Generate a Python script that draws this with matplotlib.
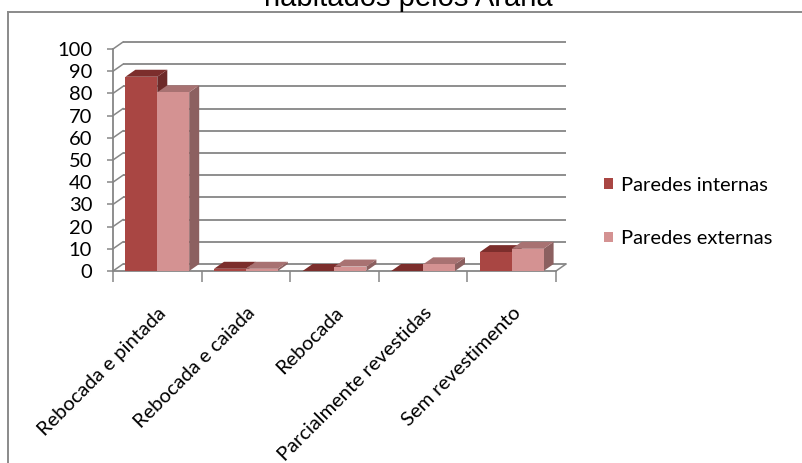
#!/usr/bin/env python3
"""
Revestimento das paredes - colunas 3D estilo planilha
"""

import matplotlib.pyplot as plt
from matplotlib.patches import Polygon, Patch
from matplotlib.lines import Line2D

categorias = ['Rebocada e pintada', 'Rebocada e caiada', 'Rebocada',
              'Parcialmente revestidas', 'Sem revestimento']
internas = [87.5, 1, 0, 0, 8.5]
externas = [80.5, 1, 2, 3, 10]
series_nomes = ['Paredes internas', 'Paredes externas']
yticks = list(range(0, 101, 10))

# cores: frente, topo, lateral
cores = [('#A94643', '#7C2E2C', '#6D2A29'),
         ('#D49292', '#A87272', '#8C6060')]

W, H = 802, 463
fig = plt.figure(figsize=(W / 100, H / 100), dpi=100)
fig.patch.set_facecolor('white')

# area frontal do grafico em pixels
x0_px, x1_px = 113, 556
y0_px, y1_px = 271, 49
ax = fig.add_axes([x0_px / W, 1 - y0_px / H, (x1_px - x0_px) / W, (y0_px - y1_px) / H])
ax.set_xlim(-0.5, len(categorias) - 0.5)
ax.set_ylim(0, 100)
ax.set_facecolor('none')

# profundidade (10 px para a direita, 7 px para cima) em unidades de dados
px_x = len(categorias) / (x1_px - x0_px)
px_y = 100 / (y0_px - y1_px)
dx, dy = 10 * px_x, 7 * px_y

grid_cor = '#868686'
xl, xr = -0.5, len(categorias) - 0.5

# paredes: linhas de grade no fundo e diagonais na parede lateral
for v in yticks:
    ax.plot([xl + dx, xr + dx], [v + dy, v + dy], color=grid_cor, lw=1.3,
            clip_on=False, zorder=1, solid_capstyle='butt')
    ax.plot([xl, xl + dx], [v, v + dy], color=grid_cor, lw=1.1,
            clip_on=False, zorder=1)
# chao
ax.plot([xl, xr], [0, 0], color=grid_cor, lw=1.3, clip_on=False, zorder=1)
ax.plot([xr, xr + dx], [0, dy], color=grid_cor, lw=1.1, clip_on=False, zorder=1)

# colunas
w, gap = 0.36, 0.14
for i in range(len(categorias)):
    for j, vals in enumerate([internas, externas]):
        v = vals[i]
        frente, topo, lado = cores[j]
        x0 = i - 0.5 + gap + j * w
        z = 3 + j
        ax.add_patch(Polygon([(x0 + w, 0), (x0 + w, v), (x0 + w + dx, v + dy),
                              (x0 + w + dx, dy)], closed=True, fc=lado, ec='none',
                             zorder=z, clip_on=False))
        ax.add_patch(Polygon([(x0, v), (x0 + w, v), (x0 + w + dx, v + dy),
                              (x0 + dx, v + dy)], closed=True, fc=topo, ec='none',
                             zorder=z, clip_on=False))
        ax.add_patch(Polygon([(x0, 0), (x0 + w, 0), (x0 + w, v), (x0, v)],
                             closed=True, fc=frente, ec='none', zorder=z,
                             clip_on=False))

# eixos
for s in ['top', 'right', 'bottom']:
    ax.spines[s].set_visible(False)
ax.spines['left'].set_color(grid_cor)
ax.spines['left'].set_linewidth(1.3)
ax.set_yticks(yticks)
ax.set_yticklabels([str(t) for t in yticks], fontsize=14.5, family='Lato',
                   color='black')
ax.tick_params(axis='y', length=4, color=grid_cor, width=1.1, pad=11)

ax.set_xticks(range(len(categorias)))
ax.set_xticklabels(categorias, rotation=45, ha='right', rotation_mode='anchor',
                   fontsize=14.5, family='Lato')
ax.tick_params(axis='x', which='major', length=0, pad=24)
ax.set_xticks([k - 0.5 for k in range(len(categorias) + 1)], minor=True)
ax.tick_params(axis='x', which='minor', length=8, color=grid_cor, width=1.1)

# legenda
handles = [Patch(facecolor=cores[k][0], edgecolor='none') for k in range(2)]
fig.legend(handles, series_nomes, loc='center left',
           bbox_to_anchor=(586 / W, 1 - 212 / H), frameon=False,
           prop={'family': 'Lato', 'size': 14.5}, handlelength=0.45,
           handleheight=0.45, handletextpad=0.4, labelspacing=1.8)

# moldura da area do grafico
fig.add_artist(Line2D([8 / W, 8 / W], [0, 1 - 12 / H], color='#8a8a8a', lw=1.4))
fig.add_artist(Line2D([8 / W, 1], [1 - 12 / H, 1 - 12 / H], color='#8a8a8a', lw=1.4))

# titulo (parcialmente fora da figura)
fig.text(408 / W, 1 - 6 / H, 'habitados pelos Arana', ha='center', va='baseline',
         fontsize=21, family='Liberation Sans')

fig.savefig('out.png', dpi=100)
